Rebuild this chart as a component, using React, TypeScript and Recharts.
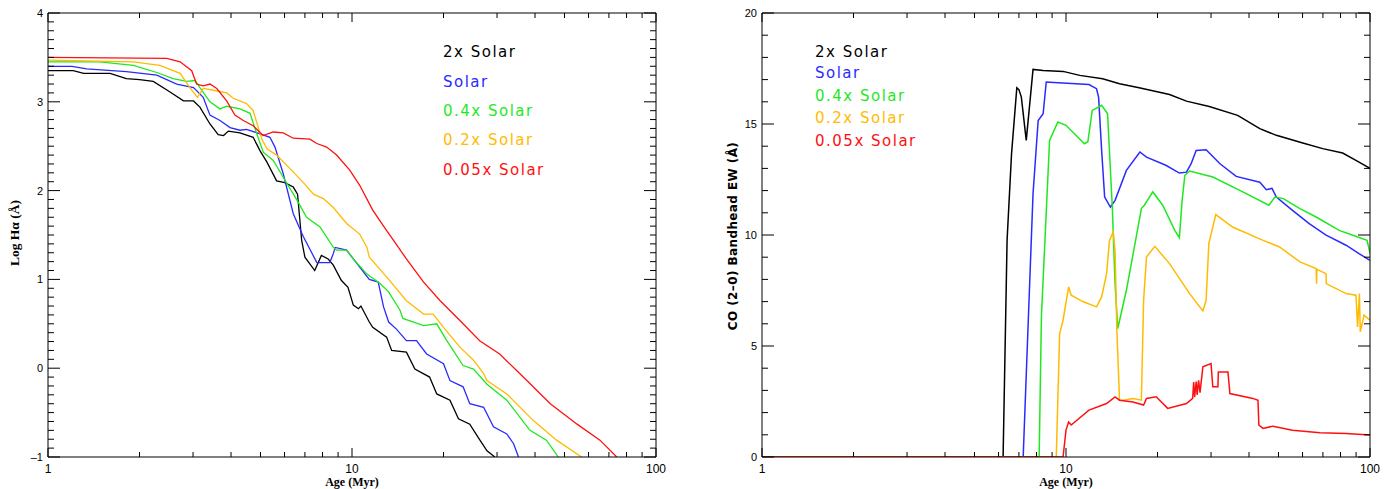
import { LineChart, Line, XAxis, YAxis } from 'recharts';

// ages in Myr, log-spaced axis 1..100
const ageTicks = [1, 2, 3, 4, 5, 6, 7, 8, 9, 10, 20, 30, 40, 50, 60, 70, 80, 90, 100];
const ageLabels = [1, 10, 100];
const haTicks = Array.from({ length: 51 }, (_, i) => (i - 10) / 10);
const coTicks = Array.from({ length: 21 }, (_, i) => i);

const names = ['2x Solar', 'Solar', '0.4x Solar', '0.2x Solar', '0.05x Solar'];
const colors = ['#000000', '#2a2aff', '#1fe81f', '#ffbb00', '#ff1010'];

type P = { age: number; v: number };
const pts = (a: number[][]): P[] => a.map(([age, v]) => ({ age, v }));

// Log H-alpha EW
const haBlack = pts([[1,3.35],[1.21,3.35],[1.31,3.32],[1.6,3.32],[1.81,3.26],[2.0,3.25],[2.22,3.23],[2.52,3.11],[2.79,3.01],[3.01,3.01],[3.16,2.94],[3.41,2.75],[3.63,2.63],[3.78,2.62],[3.92,2.67],[4.28,2.65],[4.73,2.6],[4.98,2.45],[5.25,2.32],[5.65,2.11],[6.01,2.09],[6.41,2.04],[6.62,1.96],[6.83,1.44],[7.0,1.25],[7.54,1.1],[7.93,1.27],[8.35,1.23],[8.68,1.16],[9.22,0.99],[9.7,0.91],[10.1,0.71],[10.5,0.67],[10.7,0.7],[11.4,0.52],[11.7,0.46],[13.0,0.35],[13.5,0.2],[15.1,0.18],[16.1,-0.01],[18.0,-0.1],[19.0,-0.29],[21.0,-0.36],[22.4,-0.57],[24.4,-0.63],[26.0,-0.78],[27.8,-0.93],[29.5,-1.0]]);
const haBlue = pts([[1,3.4],[1.2,3.4],[1.34,3.37],[1.81,3.34],[2.28,3.3],[2.65,3.2],[3.01,3.16],[3.24,3.05],[3.41,2.85],[3.68,2.79],[3.97,2.71],[4.28,2.68],[4.5,2.69],[4.98,2.64],[5.37,2.6],[5.58,2.49],[5.94,2.19],[6.41,1.74],[6.92,1.48],[7.27,1.34],[7.66,1.19],[8.45,1.19],[8.68,1.29],[8.8,1.36],[9.6,1.33],[10.1,1.23],[11.4,1.0],[12.2,0.97],[12.7,0.69],[13.2,0.52],[14.0,0.44],[15.1,0.31],[16.3,0.31],[17.6,0.16],[20.0,0.05],[21.0,-0.14],[23.2,-0.21],[24.4,-0.4],[27.1,-0.44],[29.2,-0.66],[32.3,-0.74],[34.0,-0.85],[35.3,-1.0]]);
const haGreen = pts([[1,3.45],[1.48,3.45],[1.91,3.41],[2.28,3.33],[2.58,3.26],[2.86,3.23],[3.05,3.24],[3.16,3.16],[3.41,3.0],[3.68,2.92],[3.87,2.95],[4.28,2.92],[4.62,2.87],[4.86,2.64],[5.11,2.43],[5.51,2.34],[5.94,2.15],[6.65,1.87],[7.09,1.7],[7.85,1.59],[8.68,1.36],[8.9,1.33],[9.6,1.33],[10.1,1.23],[11.2,1.06],[12.4,0.95],[13.2,0.86],[14.4,0.65],[14.7,0.56],[17.2,0.48],[19.0,0.5],[20.5,0.31],[23.2,0.03],[25.1,-0.01],[27.8,-0.18],[32.3,-0.36],[38.5,-0.7],[43.6,-0.81],[47.7,-1.0]]);
const haOrange = pts([[1,3.47],[1.91,3.45],[2.33,3.41],[2.72,3.32],[2.93,3.16],[3.1,3.05],[3.24,3.15],[3.5,3.13],[3.87,3.1],[4.07,3.04],[4.5,2.98],[4.73,2.9],[5.05,2.58],[5.25,2.47],[5.65,2.4],[6.24,2.25],[6.92,2.09],[7.47,1.96],[8.05,1.91],[8.68,1.81],[9.6,1.63],[10.6,1.51],[11.2,1.36],[11.4,1.25],[13.2,1.0],[15.1,0.76],[17.2,0.61],[18.5,0.61],[20.0,0.46],[22.6,0.24],[25.1,0.09],[27.1,-0.06],[27.8,-0.14],[32.3,-0.29],[39.5,-0.59],[47.1,-0.81],[56.9,-1.0]]);
const haRed = pts([[1,3.5],[2.46,3.49],[2.72,3.45],[2.97,3.35],[3.08,3.2],[3.24,3.18],[3.41,3.2],[3.59,3.15],[3.87,3.01],[4.12,2.85],[4.39,2.79],[4.73,2.73],[5.1,2.62],[5.51,2.66],[5.94,2.65],[6.41,2.59],[7.27,2.58],[7.66,2.53],[8.25,2.49],[8.9,2.4],[9.83,2.23],[10.6,2.06],[11.7,1.78],[13.0,1.55],[13.7,1.44],[15.1,1.23],[17.2,0.97],[19.5,0.76],[22.6,0.54],[26.3,0.31],[30.6,0.16],[36.6,-0.1],[44.9,-0.4],[55.0,-0.63],[65.4,-0.81],[74.3,-1.0]]);

// CO (2-0) bandhead EW
const coBlack = pts([[1,0],[6.21,0],[6.4,9.76],[6.62,13.66],[6.89,16.63],[7.0,16.55],[7.13,16.21],[7.4,14.26],[7.79,17.46],[8.41,17.41],[9.78,17.37],[11.1,17.19],[13.2,17.04],[15.0,16.81],[17.4,16.63],[21.9,16.33],[24.9,16.03],[29.6,15.79],[36.7,15.39],[43.4,14.79],[49.2,14.49],[60.1,14.14],[69.9,13.89],[81.3,13.69],[89.9,13.36],[100,13.0]]);
const coBlue = pts([[1,0],[7.23,0],[7.79,11.86],[8.1,15.16],[8.41,15.46],[8.61,16.89],[8.83,16.88],[11.9,16.78],[12.6,16.59],[12.8,16.21],[13.1,13.81],[13.4,11.71],[14.0,11.26],[14.5,11.56],[15.8,12.91],[17.5,13.74],[18.4,13.51],[21.3,13.14],[23.6,12.79],[24.9,12.83],[25.8,13.21],[26.8,13.81],[28.9,13.84],[32.1,13.21],[36.3,12.64],[43.4,12.38],[45.6,12.04],[47.6,12.1],[49.2,11.71],[55.6,11.11],[63.1,10.51],[71.7,9.99],[83.4,9.54],[92,9.16],[100,8.86]]);
const coGreen = pts([[1,0],[8.16,0],[8.3,6.31],[8.83,14.26],[9.4,15.09],[10,14.94],[11.5,14.11],[11.8,14.2],[12.2,15.61],[13.1,15.84],[13.7,15.46],[14.2,11.26],[14.5,7.81],[14.8,5.79],[15.8,7.51],[17.1,10.06],[17.7,11.19],[18.1,11.34],[19.3,11.94],[20.8,11.34],[22.8,10.21],[23.6,9.88],[24.1,11.56],[24.6,12.69],[25.5,12.88],[30.4,12.61],[37.3,12.01],[46.5,11.34],[48.7,11.71],[51.9,11.64],[58.8,11.19],[66.5,10.81],[79.2,10.21],[87.8,9.99],[97.8,9.76],[100,9.18]]);
const coOrange = pts([[1,0],[9.29,0],[9.53,5.56],[9.78,6.16],[10.2,7.66],[10.4,7.29],[11.4,6.99],[12.6,6.76],[13.1,7.21],[13.6,8.26],[13.9,9.76],[14.3,10.14],[14.5,9.31],[14.7,5.71],[15.0,2.56],[15.4,2.56],[16.6,2.64],[17.7,2.56],[18.0,7.06],[18.4,9.01],[19.6,9.49],[21.9,8.71],[25.5,7.36],[28.2,6.58],[28.9,7.06],[29.5,9.61],[31.1,10.92],[35.3,10.36],[44.5,9.76],[50.4,9.46],[58.8,8.79],[66.5,8.49],[66.7,7.81],[66.9,8.45],[71.7,8.26],[71.8,7.81],[83.4,7.36],[89.9,7.29],[91.0,5.86],[92.3,7.36],[92.9,5.64],[95.6,6.39],[100,6.16]]);
const coRed = pts([[1,0],[9.78,0],[10.0,1.21],[10.2,1.58],[10.4,1.44],[11.9,2.11],[13.6,2.41],[14.5,2.71],[15,2.56],[16.6,2.48],[18.0,2.34],[18.4,2.64],[19.8,2.71],[21.6,2.19],[24.9,2.41],[26.1,2.64],[26.3,3.38],[26.5,2.7],[26.8,3.4],[27.0,2.8],[27.3,3.45],[27.6,2.9],[28.2,4.06],[30.0,4.21],[30.4,3.16],[31.6,3.16],[31.7,3.83],[34.1,3.83],[34.6,2.86],[41.2,2.64],[42.8,2.56],[43.1,1.44],[44.5,1.29],[48.0,1.39],[55.6,1.21],[68.5,1.09],[83.4,1.06],[100,0.99]]);

const haSeries = [haBlack, haBlue, haGreen, haOrange, haRed];
const coSeries = [coBlack, coBlue, coGreen, coOrange, coRed];

const tickFont = '"Liberation Sans", Arial, sans-serif';

const xTick = (side: 'bottom' | 'top') => (p: any) => {
  const { x, y, payload } = p;
  const v = payload.value;
  const major = ageLabels.includes(v);
  const len = major ? 9 : 5;
  const dir = side === 'bottom' ? -1 : 1;
  return (
    <g>
      <line x1={x} y1={y} x2={x} y2={y + dir * len} stroke="#000" strokeWidth={1} />
      {side === 'bottom' && major && (
        <text x={x} y={y + 16} textAnchor="middle" fontSize={12} fontFamily={tickFont} fill="#000">
          {v}
        </text>
      )}
    </g>
  );
};

const yTick = (side: 'left' | 'right', isMajor: (v: number) => boolean) => (p: any) => {
  const { x, y, payload } = p;
  const v = payload.value;
  const major = isMajor(v);
  const len = major ? 12 : 6;
  const dir = side === 'left' ? 1 : -1;
  return (
    <g>
      <line x1={x} y1={y} x2={x + dir * len} y2={y} stroke="#000" strokeWidth={1} />
      {side === 'left' && major && (
        <text x={x - 5} y={y + 4} textAnchor="end" fontSize={11} fontFamily={tickFont} fill="#000">
          {v < 0 ? '\u2013' + Math.abs(v) : v}
        </text>
      )}
    </g>
  );
};

// axis boxes are 1px thick so recharts draws them; margins are 1px smaller to compensate
function Panel({ series, yDomain, yTicks, isMajor, left, width, marginLeft, marginRight, sw }: any) {
  return (
    <div style={{ position: 'absolute', left, top: 0 }}>
      <LineChart width={width} height={489} margin={{ top: 12, right: marginRight - 1, bottom: 31, left: marginLeft - 1 }}>
        <XAxis xAxisId="b" dataKey="age" type="number" scale="log" domain={[1, 100]} ticks={ageTicks} interval={0}
          allowDataOverflow height={1} tickSize={0} tickMargin={0} tickLine={false} axisLine={{ stroke: '#000' }} tick={xTick('bottom')} />
        <XAxis xAxisId="t" orientation="top" dataKey="age" type="number" scale="log" domain={[1, 100]} ticks={ageTicks} interval={0}
          allowDataOverflow height={1} tickSize={0} tickMargin={0} tickLine={false} axisLine={{ stroke: '#000' }} tick={xTick('top')} />
        <YAxis yAxisId="l" type="number" domain={yDomain} ticks={yTicks} interval={0} allowDataOverflow width={1}
          tickSize={0} tickMargin={0} tickLine={false} axisLine={{ stroke: '#000' }} tick={yTick('left', isMajor)} />
        <YAxis yAxisId="r" orientation="right" type="number" domain={yDomain} ticks={yTicks} interval={0} allowDataOverflow width={1}
          tickSize={0} tickMargin={0} tickLine={false} axisLine={{ stroke: '#000' }} tick={yTick('right', isMajor)} />
        {series.map((d: P[], i: number) => (
          <Line key={names[i]} xAxisId="b" yAxisId="l" data={d} dataKey="v" type="linear" stroke={colors[i]}
            strokeWidth={sw} dot={false} isAnimationActive={false} />
        ))}
      </LineChart>
    </div>
  );
}

function LegendBlock({ x, tops }: { x: number; tops: number[] }) {
  return (
    <>
      {names.map((n, i) => (
        <div key={n} style={{ position: 'absolute', left: x, top: tops[i] - 9, lineHeight: '18px', fontSize: 15,
          fontFamily: '"DejaVu Sans", sans-serif', letterSpacing: 1.5, color: colors[i], whiteSpace: 'nowrap' }}>
          {n}
        </div>
      ))}
    </>
  );
}

const titleSerif: any = { position: 'absolute', fontFamily: '"Liberation Serif", "DejaVu Serif", serif', fontWeight: 'bold', fontSize: 12, lineHeight: '12px', whiteSpace: 'nowrap', color: '#000' };

export default function App() {
  return (
    <div style={{ position: 'absolute', left: 0, top: 0, width: 1393, height: 489, background: '#fff', overflow: 'hidden' }}>
      <Panel series={haSeries} yDomain={[-1, 4]} yTicks={haTicks} isMajor={(v: number) => Number.isInteger(v)}
        left={0} width={700} marginLeft={48} marginRight={44} sw={1.3} />
      <Panel series={coSeries} yDomain={[0, 20]} yTicks={coTicks} isMajor={(v: number) => v % 5 === 0}
        left={700} width={693} marginLeft={62} marginRight={23} sw={1.5} />
      <LegendBlock x={443} tops={[52, 82, 111, 140, 170]} />
      <LegendBlock x={815} tops={[52, 73, 96, 118, 141]} />
      <div style={{ ...titleSerif, left: 352, top: 476, transform: 'translateX(-50%)' }}>Age (Myr)</div>
      <div style={{ ...titleSerif, left: 1066, top: 476, transform: 'translateX(-50%)' }}>Age (Myr)</div>
      <div style={{ ...titleSerif, fontSize: 13.5, lineHeight: '14px', left: 15, top: 233, transform: 'translate(-50%, -50%) rotate(-90deg)' }}>Log Hα (Å)</div>
      <div style={{ ...titleSerif, fontFamily: '"DejaVu Sans", sans-serif', fontSize: 12, lineHeight: '13px', letterSpacing: 0.4, left: 733, top: 236,
        transform: 'translate(-50%, -50%) rotate(-90deg)' }}>CO (2–0) Bandhead EW (Å)</div>
    </div>
  );
}
